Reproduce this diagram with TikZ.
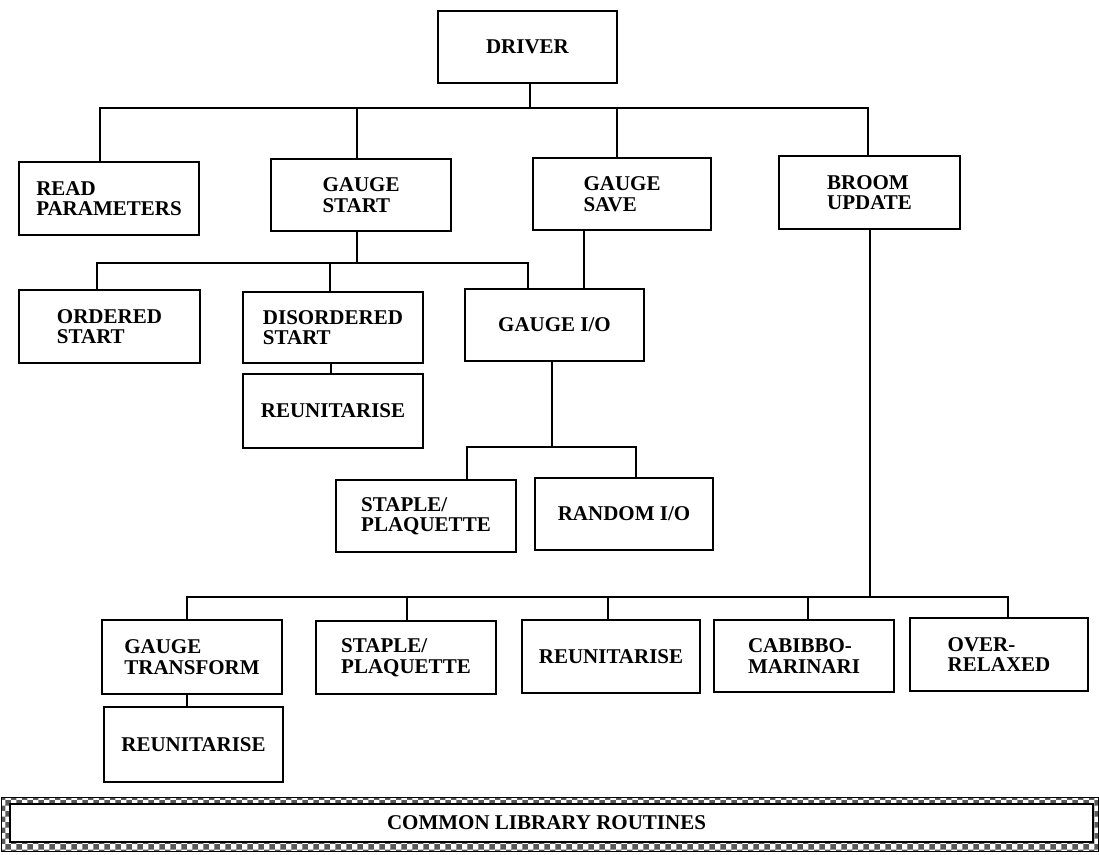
\documentclass[tikz,border=0pt]{standalone}
\usepackage{fontspec}
\setmainfont{Liberation Serif}
\usetikzlibrary{patterns}
\begin{document}
\begin{tikzpicture}[x=1pt,y=-1pt,
  box/.style={draw, line width=2.8pt, minimum width=180pt, minimum height=73pt,
    inner sep=0pt, align=left, font=\fontsize{21}{20.5}\selectfont\bfseries},
  conn/.style={line width=2pt}]
\useasboundingbox (0,0) rectangle (1099,854);
% level 1
\node[box, minimum width=179pt, minimum height=72pt] (driver) at (527.5,47) {DRIVER};
% level 2
\node[box] (read)   at (109,198.5) {READ\\PARAMETERS};
\node[box, minimum height=72pt] (gstart) at (361,195) {GAUGE\\START};
\node[box, minimum width=178pt, minimum height=72pt] (gsave)  at (622,194) {GAUGE\\SAVE};
\node[box, minimum width=181pt] (broom)  at (869.5,192.5) {BROOM\\UPDATE};
% level 3
\node[box, minimum width=181pt] (ordered) at (109.5,326.5) {ORDERED\\START};
\node[box, minimum height=71pt] (disord)  at (333,327.5) {DISORDERED\\START};
\node[box, minimum height=74pt] (reu1)    at (333,411) {REUNITARISE};
\node[box, minimum width=179pt, minimum height=72pt] (gio) at (554.5,325) {GAUGE I/O};
% level 4
\node[box, minimum height=72pt] (staple1) at (426,516) {STAPLE/\\PLAQUETTE};
\node[box, minimum width=178pt, minimum height=72pt] (random) at (624,514) {RANDOM I/O};
% broom children
\node[box, minimum height=74pt] (gt)      at (192,657) {GAUGE\\TRANSFORM};
\node[box, minimum width=179pt, minimum height=75pt] (reu3) at (193.5,744.5) {REUNITARISE};
\node[box] (staple2) at (406,657.5) {STAPLE/\\PLAQUETTE};
\node[box, minimum width=178pt] (reu2)    at (611,656.5) {REUNITARISE};
\node[box, minimum height=72pt] (cab)     at (804,656) {CABIBBO-\\MARINARI};
\node[box, minimum width=178pt] (over)    at (999,654.5) {OVER-\\RELAXED};
% common library
\node[draw, line width=1pt, pattern=checkerboard, pattern color=black!65,
  minimum width=1097pt, minimum height=54pt, inner sep=0pt] (libframe) at (549.5,824.5) {};
\node[draw, fill=white, line width=2.6pt, minimum width=1083pt, minimum height=38pt,
  inner sep=0pt, font=\fontsize{21}{20.5}\selectfont\bfseries] (lib) at (551.5,823) {\hspace*{-10pt}COMMON LIBRARY ROUTINES};
% bus 1
\coordinate (b1a) at (100,108);
\coordinate (b1b) at (357,108);
\coordinate (b1c) at (530,108);
\coordinate (b1d) at (617,108);
\coordinate (b1e) at (868,108);
\draw[conn] (read.north -| b1a) -- (b1a) -- (b1e) -- (broom.north -| b1e);
\draw[conn] (driver.south -| b1c) -- (b1c);
\draw[conn] (b1b) -- (gstart.north -| b1b);
\draw[conn] (b1d) -- (gsave.north -| b1d);
% bus 2
\coordinate (b2a) at (97,263);
\coordinate (b2b) at (330,263);
\coordinate (b2c) at (357,263);
\coordinate (b2d) at (528,263);
\draw[conn] (ordered.north -| b2a) -- (b2a) -- (b2d) -- (gio.north -| b2d);
\draw[conn] (gstart.south -| b2c) -- (b2c);
\draw[conn] (b2b) -- (disord.north -| b2b);
\coordinate (gsx) at (584,260);
\draw[conn] (gsave.south -| gsx) -- (gio.north -| gsx);
\coordinate (dx) at (331,368);
\draw[conn] (disord.south -| dx) -- (reu1.north -| dx);
% bus 3
\coordinate (b3a) at (467,447);
\coordinate (b3b) at (552,447);
\coordinate (b3c) at (636,447);
\draw[conn] (staple1.north -| b3a) -- (b3a) -- (b3c) -- (random.north -| b3c);
\draw[conn] (gio.south -| b3b) -- (b3b);
% bus 4
\coordinate (b4a) at (187,597);
\coordinate (b4b) at (407,597);
\coordinate (b4c) at (608,597);
\coordinate (b4d) at (808,597);
\coordinate (b4e) at (870,597);
\coordinate (b4f) at (1008,597);
\draw[conn] (gt.north -| b4a) -- (b4a) -- (b4f) -- (over.north -| b4f);
\draw[conn] (broom.south -| b4e) -- (b4e);
\draw[conn] (b4b) -- (staple2.north -| b4b);
\draw[conn] (b4c) -- (reu2.north -| b4c);
\draw[conn] (b4d) -- (cab.north -| b4d);
\coordinate (gx) at (187,700);
\draw[conn] (gt.south -| gx) -- (reu3.north -| gx);
\end{tikzpicture}
\end{document}
